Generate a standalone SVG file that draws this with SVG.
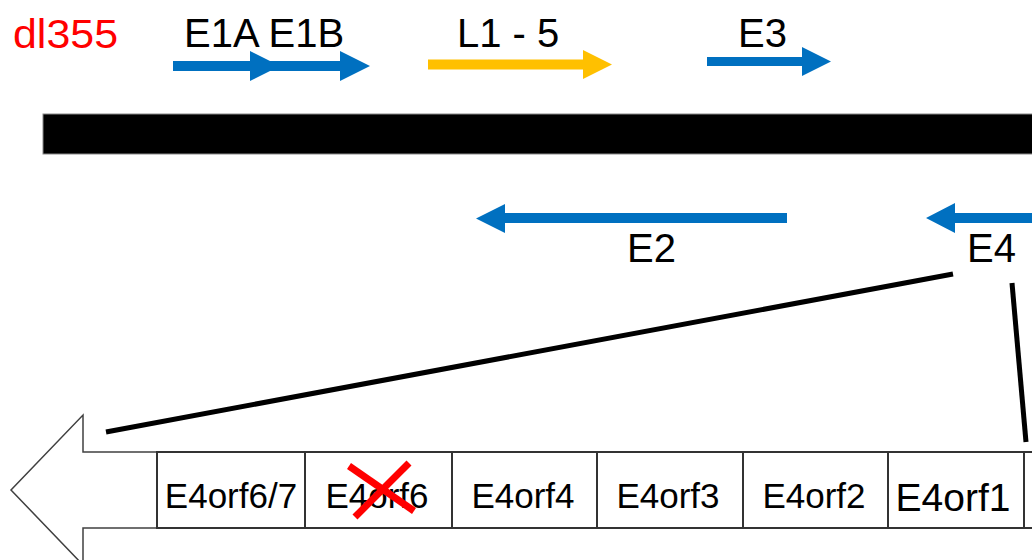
<svg xmlns="http://www.w3.org/2000/svg" width="1032" height="560" viewBox="0 0 1032 560">
<style>
.t{font-family:"Liberation Sans",Arial,sans-serif;fill:#000}
.lbl{font-size:40px}
.orf{font-size:35px;text-anchor:middle}
.blue{fill:#0070C0}
.yel{fill:#FFC000}
.box{fill:#fff;stroke:#333;stroke-width:2}
.conn{stroke:#000;stroke-width:5;fill:none}
</style>
<rect width="1032" height="560" fill="#fff"/>
<g id="title"><text class="t" x="13" y="48" font-size="40" textLength="105" lengthAdjust="spacingAndGlyphs" style="fill:#FF0000">dl355</text></g>
<g id="genome"><rect x="43" y="114" width="1000" height="40" fill="#000" stroke="#888" stroke-width="1"/></g>
<g id="E1A"><polygon class="blue" points="173,61 250,61 250,51 280,66 250,81 250,71 173,71"/></g>
<g id="E1B"><polygon class="blue" points="250,61 340,61 340,51 370,66 340,81 340,71 250,71"/>
<text class="t lbl" x="184" y="47">E1A E1B</text></g>
<g id="L1-5"><polygon class="yel" points="428,59.5 583,59.5 583,50 612,64.5 583,79 583,69.5 428,69.5"/>
<text class="t lbl" x="457" y="47">L1 - 5</text></g>
<g id="E3"><polygon class="blue" points="707,57 802,57 802,47 831,61.5 802,76 802,66 707,66"/>
<text class="t lbl" x="738" y="47">E3</text></g>
<g id="E2"><polygon class="blue" points="787,213 505,213 505,204 476,218.5 505,233 505,223 787,223"/>
<text class="t lbl" x="627" y="262">E2</text></g>
<g id="E4"><polygon class="blue" points="1040,213 955,213 955,203 926,218 955,233 955,223 1040,223"/>
<text class="t lbl" x="967" y="262">E4</text></g>
<g id="connectors">
<line class="conn" x1="953" y1="274" x2="106" y2="432"/>
<line class="conn" x1="1012" y1="283" x2="1026" y2="442"/>
</g>
<g id="E4-direction"><polygon points="157,452 83,452 83,415 11,490 83,565 83,528 157,528" fill="#fff" stroke="#404040" stroke-width="1.5"/></g>
<g id="E4orf6-7"><rect class="box" x="157" y="452" width="148" height="76"/><text class="t orf" x="231" y="508">E4orf6/7</text></g>
<g id="E4orf6"><rect class="box" x="305" y="452" width="147" height="76"/><text class="t orf" x="377" y="508">E4orf6</text>
<g stroke="#FF0000" stroke-width="7"><line x1="349" y1="466" x2="414" y2="511"/><line x1="409" y1="463" x2="355" y2="517"/></g></g>
<g id="E4orf4"><rect class="box" x="452" y="452" width="145" height="76"/><text class="t orf" x="523" y="508">E4orf4</text></g>
<g id="E4orf3"><rect class="box" x="597" y="452" width="146" height="76"/><text class="t orf" x="668" y="508">E4orf3</text></g>
<g id="E4orf2"><rect class="box" x="743" y="452" width="145" height="76"/><text class="t orf" x="814" y="508">E4orf2</text></g>
<g id="E4orf1"><rect class="box" x="888" y="452" width="136" height="76"/><text class="t orf" x="953" y="511" style="font-size:39px">E4orf1</text></g>
<g id="E4orf-next"><rect class="box" x="1024" y="452" width="40" height="76"/></g>
</svg>
